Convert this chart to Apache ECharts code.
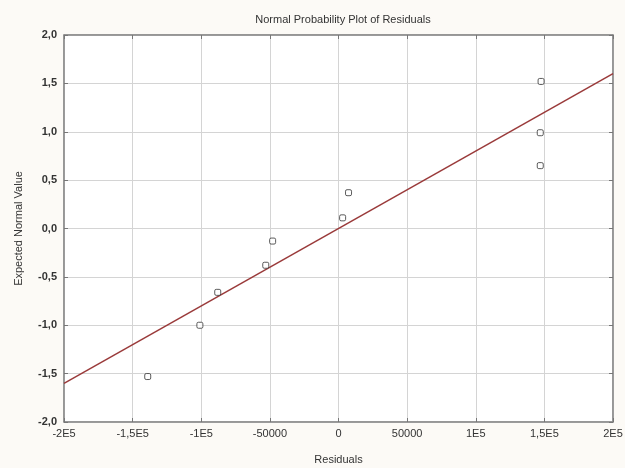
<!DOCTYPE html>
<html>
<head>
<meta charset="utf-8">
<script src="https://cdn.jsdelivr.net/npm/echarts@6/dist/echarts.min.js"></script>
<style>html,body{margin:0;padding:0;background:#fcfaf6;}#c{width:625px;height:468px;}</style>
</head>
<body>
<div id="c"></div>
<script>
var residuals = [-139000, -101000, -88000, -53000, -48000, 3000, 7300, 147000, 147000, 147600];
var expectedNormal = [-1.53, -1.00, -0.66, -0.38, -0.13, 0.11, 0.37, 0.65, 0.99, 1.52];
var fitX = [-200000, 200000];
var fitY = [-1.6, 1.6];
var xTickLabels = ['-2E5', '-1,5E5', '-1E5', '-50000', '0', '50000', '1E5', '1,5E5', '2E5'];
var yTickLabels = ['-2,0', '-1,5', '-1,0', '-0,5', '0,0', '0,5', '1,0', '1,5', '2,0'];

var xMin = -200000, xMax = 200000, xInt = 50000;
var yMin = -2, yMax = 2, yInt = 0.5;

var chart = echarts.init(document.getElementById('c'));
var font = 'Liberation Sans, Arial, sans-serif';
var gridLine = {show: true, lineStyle: {color: '#d4d4d4', width: 1}};
var tick = {show: true, inside: true, length: 4, lineStyle: {color: '#777'}};
var axisLine = {show: true, onZero: false, lineStyle: {color: '#888', width: 1.5}};

chart.setOption({
  backgroundColor: '#fcfaf6',
  animation: false,
  title: {
    text: 'Normal Probability Plot of Residuals',
    left: 338, top: 9, textAlign: 'center',
    textStyle: {fontFamily: font, fontSize: 11, fontWeight: 'normal', color: '#333'}
  },
  grid: {left: 64, right: 12, top: 35, bottom: 46, outerBoundsMode: 'none', containLabel: false,
    show: true, backgroundColor: '#ffffff', borderColor: '#888', borderWidth: 1},
  xAxis: [{
    type: 'value', min: xMin, max: xMax, interval: xInt,
    name: 'Residuals', nameLocation: 'middle', nameGap: 32,
    nameTextStyle: {fontFamily: font, fontSize: 11, color: '#333'},
    axisLine: axisLine, axisTick: tick, splitLine: gridLine,
    axisLabel: {fontFamily: font, fontSize: 11, color: '#333', margin: 6,
      formatter: function (v) { return xTickLabels[Math.round((v - xMin) / xInt)]; }}
  }, {
    type: 'value', position: 'top', min: xMin, max: xMax, interval: xInt,
    axisLine: axisLine, axisTick: tick, axisLabel: {show: false}, splitLine: {show: false}
  }],
  yAxis: [{
    type: 'value', min: yMin, max: yMax, interval: yInt,
    name: 'Expected Normal Value', nameLocation: 'middle', nameGap: 40,
    nameTextStyle: {fontFamily: font, fontSize: 11, color: '#333'},
    axisLine: axisLine, axisTick: tick, splitLine: gridLine,
    axisLabel: {fontFamily: font, fontSize: 11, fontWeight: 'bold', color: '#333', margin: 7,
      formatter: function (v) { return yTickLabels[Math.round((v - yMin) / yInt)]; }}
  }, {
    type: 'value', position: 'right', min: yMin, max: yMax, interval: yInt,
    axisLine: axisLine, axisTick: tick, axisLabel: {show: false}, splitLine: {show: false}
  }],
  series: [{
    type: 'line',
    data: fitX.map(function (x, i) { return [x, fitY[i]]; }),
    symbol: 'none',
    lineStyle: {color: '#9a3a3a', width: 1.5},
    z: 2
  }, {
    type: 'scatter',
    data: residuals.map(function (x, i) { return [x, expectedNormal[i]]; }),
    symbol: 'roundRect', symbolSize: 6,
    itemStyle: {color: '#ffffff', borderColor: '#333', borderWidth: 1},
    z: 3
  }]
});
</script>
</body>
</html>
